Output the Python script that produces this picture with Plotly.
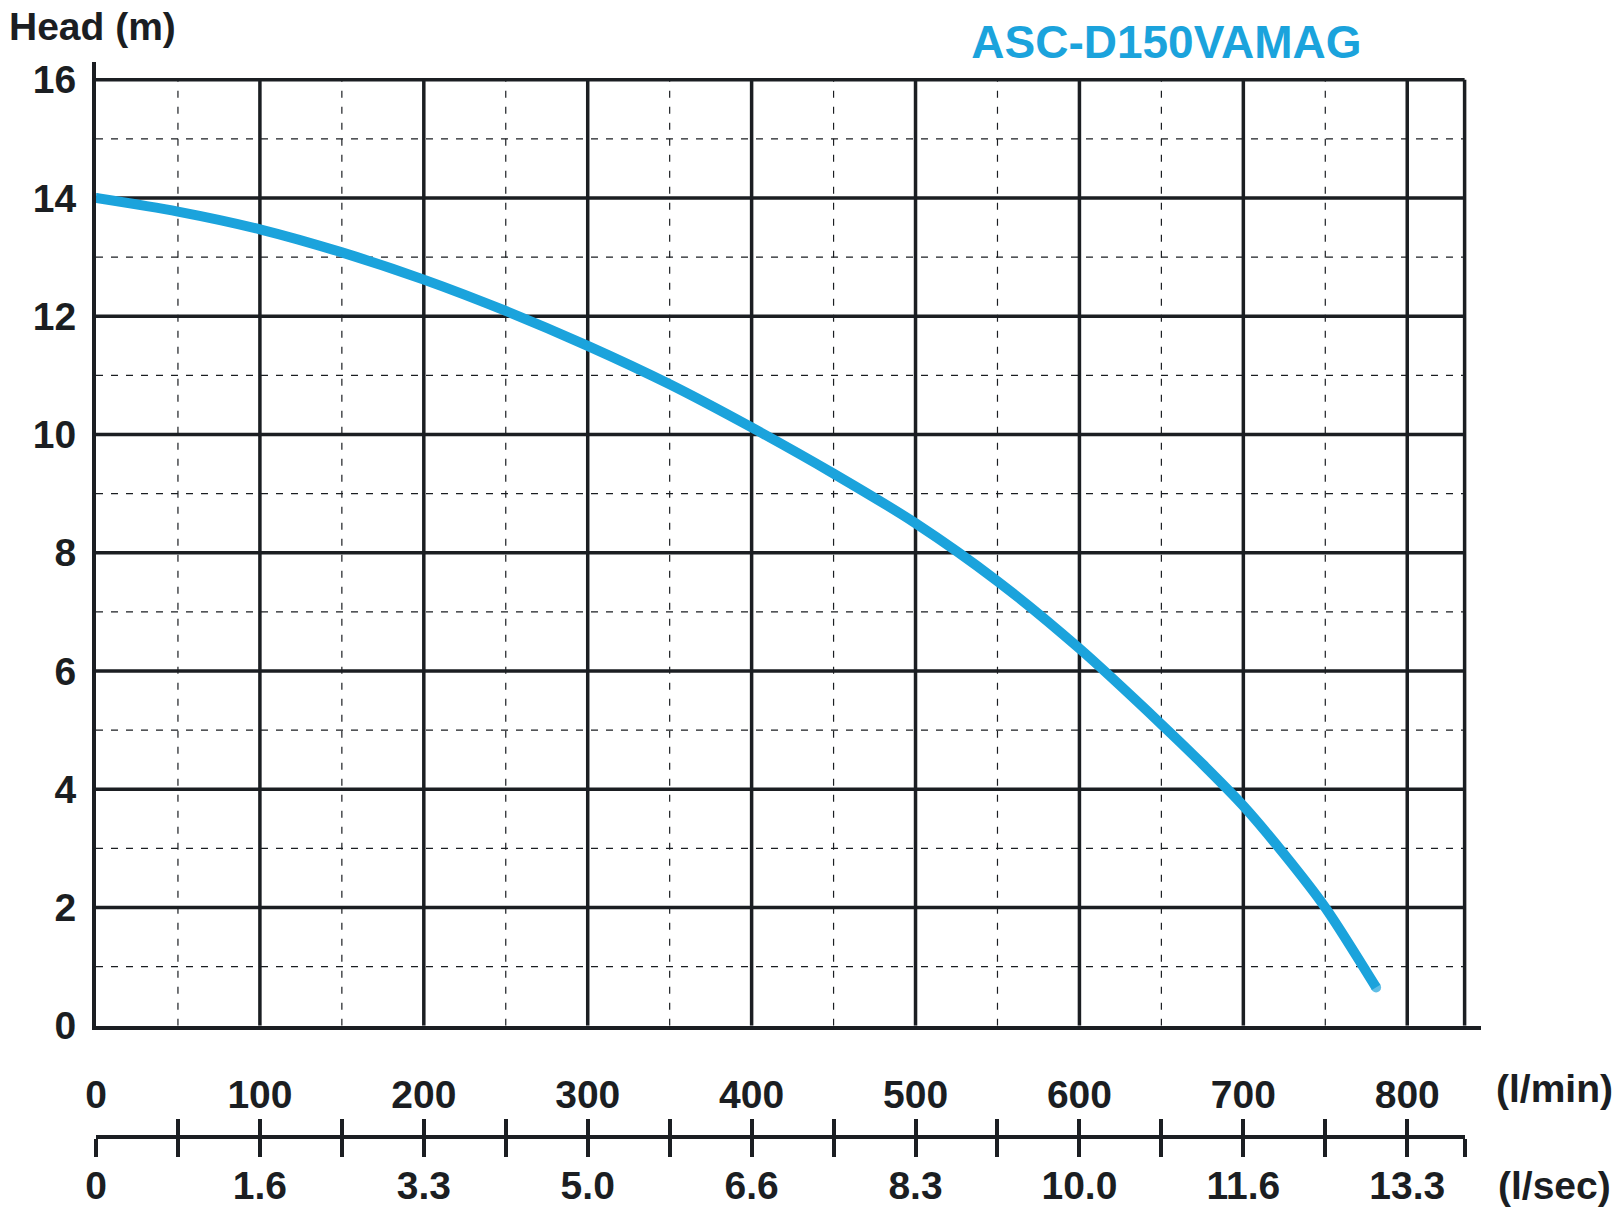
import plotly.graph_objects as go

# pump curve (flow in l/min, head in m)
flow = [0, 50, 100, 150, 200, 250, 300, 350, 400, 450, 500, 550, 600, 650, 675, 700, 725, 750, 781]
head = [14.0, 13.77, 13.47, 13.08, 12.62, 12.09, 11.5, 10.85, 10.12, 9.34, 8.5, 7.52, 6.38, 5.1, 4.43, 3.72, 2.9, 2.0, 0.65]

head_ticks = [0, 2, 4, 6, 8, 10, 12, 14, 16]
lpm_ticks = [0, 100, 200, 300, 400, 500, 600, 700, 800]
lps_labels = ["0", "1.6", "3.3", "5.0", "6.6", "8.3", "10.0", "11.6", "13.3"]
minor_flow = [50, 150, 250, 350, 450, 550, 650, 750]
minor_head = [1, 3, 5, 7, 9, 11, 13, 15]
flow_end = 835
head_top = 16

INK = "#1b1e22"
BLUE = "#1ba3dc"
FONT = "Liberation Sans, Arial, sans-serif"
LW = 10

# lower scale: tick every 50 l/min plus the frame edge, labels every 100
sec_vals = [v for v in range(0, 801, 50)] + [flow_end]
sec_text = []
for v in sec_vals:
    if v in lpm_ticks:
        sec_text.append(lps_labels[lpm_ticks.index(v)])
    else:
        sec_text.append("")

fig = go.Figure()

fig.add_trace(go.Scatter(
    x=flow, y=head, mode="lines+markers",
    line=dict(color=BLUE, width=LW, shape="spline", smoothing=0.8),
    marker=dict(color=BLUE, line=dict(width=0),
                size=[LW if i in (0, len(flow) - 1) else 0 for i in range(len(flow))]),
    hoverinfo="skip", showlegend=False,
))
# dummy traces so the two lower axes get drawn
for ax in ("x2", "x3"):
    fig.add_trace(go.Scatter(x=flow, y=head, xaxis=ax, mode="markers",
                             marker=dict(opacity=0), hoverinfo="skip", showlegend=False))

shapes = []
for v in minor_flow:
    shapes.append(dict(type="line", xref="x", yref="y", x0=v, x1=v, y0=0, y1=head_top,
                       line=dict(color=INK, width=1.2, dash="7px,9px"), layer="below"))
for v in minor_head:
    shapes.append(dict(type="line", xref="x", yref="y", x0=0, x1=flow_end, y0=v, y1=v,
                       line=dict(color=INK, width=1.2, dash="7px,8px"), layer="below"))
for v in lpm_ticks[1:] + [flow_end]:
    shapes.append(dict(type="line", xref="x", yref="y", x0=v, x1=v, y0=0, y1=head_top,
                       line=dict(color=INK, width=3.5), layer="below"))
for v in head_ticks[1:]:
    shapes.append(dict(type="line", xref="x", yref="y", x0=0, x1=flow_end, y0=v, y1=v,
                       line=dict(color=INK, width=3.5), layer="below"))

tick_font = dict(family=FONT, size=39, color=INK, weight="bold")
ydom0 = 0.1034

fig.update_layout(
    width=1620, height=1219,
    margin=dict(l=96, r=139, t=62, b=82),
    paper_bgcolor="white", plot_bgcolor="rgba(0,0,0,0)",
    shapes=shapes,
    title=dict(text="ASC-D150VAMAG", x=0.72, xanchor="center", y=0.966, yanchor="middle",
               font=dict(family=FONT, size=46, color=BLUE, weight="bold")),
    xaxis=dict(range=[0, 845], domain=[0, 1], tickvals=lpm_ticks, ticks="", showgrid=False,
               zeroline=False, showline=True, linecolor=INK, linewidth=4,
               tickfont=tick_font, ticklabelstandoff=31, anchor="y"),
    xaxis2=dict(range=[0, flow_end], domain=[0, flow_end / 845], anchor="free", position=0,
                tickvals=sec_vals, ticktext=sec_text, ticks="outside", ticklen=18,
                tickwidth=3.5, tickcolor=INK, showline=True, linecolor=INK, linewidth=3.5,
                showgrid=False, zeroline=False, tickfont=tick_font, ticklabelstandoff=-5),
    xaxis3=dict(range=[0, flow_end], domain=[0, flow_end / 845], anchor="free", position=0,
                tickvals=sec_vals, showticklabels=False, ticks="inside", ticklen=18,
                tickwidth=3.5, tickcolor=INK, showline=False, showgrid=False, zeroline=False),
    yaxis=dict(range=[0, 16.3], domain=[ydom0, 1], tickvals=head_ticks, ticks="",
               showgrid=False, zeroline=False, showline=True, linecolor=INK, linewidth=4,
               tickfont=tick_font, ticklabelstandoff=8),
    annotations=[
        dict(text="Head (m)", xref="paper", yref="paper", x=-0.0645, y=1.0326,
             xanchor="left", yanchor="middle", showarrow=False,
             font=dict(family=FONT, size=39, color=INK, weight="bold")),
        dict(text="(l/min)", xref="paper", yref="paper", x=1.0968, y=0.0447,
             xanchor="right", yanchor="middle", showarrow=False, font=tick_font),
        dict(text="(l/sec)", xref="paper", yref="paper", x=1.0955, y=-0.0447,
             xanchor="right", yanchor="middle", showarrow=False, font=tick_font),
    ],
)

# the page's default body margin would push the figure off its 1620x1219 box
fig.write_html("out.html", config={"displayModeBar": False},
               post_script="document.body.style.margin='0';")
